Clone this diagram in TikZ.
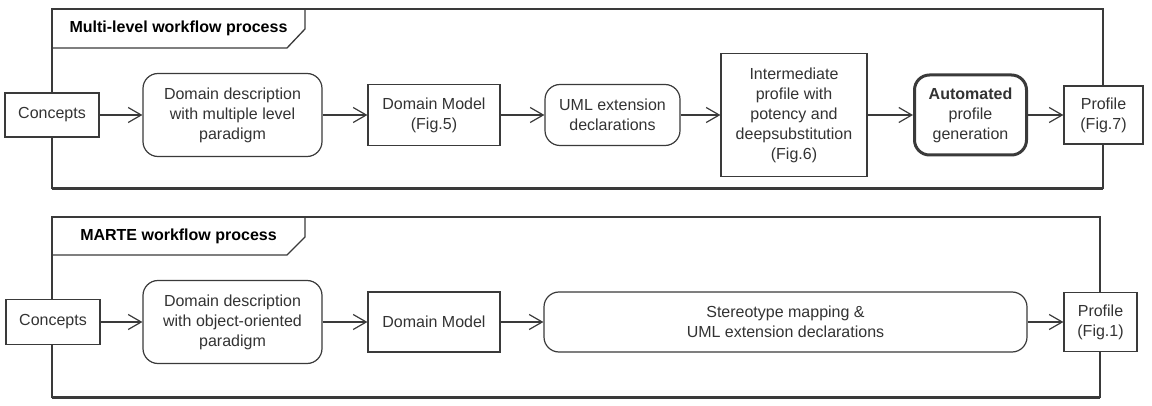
\documentclass[tikz,border=0pt]{standalone}
\usepackage{fontspec}
\setmainfont{Liberation Sans}
\usetikzlibrary{arrows.meta}
\definecolor{linec}{HTML}{3A3A3A}
\definecolor{txt}{HTML}{333333}
\begin{document}
\begin{tikzpicture}[x=1pt,y=-1pt,
  box/.style={draw=linec, line width=1.2pt, fill=white, align=center, inner sep=0pt,
    font=\fontsize{16}{20}\selectfont, text=txt},
  rbox/.style={box, rounded corners=15pt},
  frame/.style={draw=linec, line width=1.3pt},
  title/.style={font=\fontsize{16}{20}\selectfont\bfseries, text=black, inner sep=0pt},
  flow/.style={draw=linec, line width=1.2pt, -{Straight Barb[length=13pt,width=15pt,line width=1.2pt]}}]
\useasboundingbox (0,0) rectangle (1152,406);
% frames
\draw[frame] (52,9) rectangle (1103,188);
\draw[linec, line width=1.6pt] (52,189) -- (1103,189);
\draw[frame] (52,48) -- (287,48) -- (305,29) -- (305,9);
\node[title] (t1) at (178.5,28.5) {Multi-level workflow process};
\draw[frame] (52,217) rectangle (1100,397);
\draw[linec, line width=1.6pt] (52,398) -- (1100,398);
\draw[frame] (52,255) -- (287,255) -- (305,237) -- (305,217);
\node[title] (t2) at (178.5,236) {MARTE workflow process};
% top row
\node[box, minimum width=94pt, minimum height=44pt] (c1) at (52,115) {Concepts};
\node[rbox, minimum width=179pt, minimum height=83pt] (d1) at (232.5,115) {Domain description\\with multiple level\\paradigm};
\node[box, minimum width=132pt, minimum height=61pt] (m1) at (434,115) {Domain Model\\(Fig.5)};
\node[rbox, minimum width=135pt, minimum height=61pt] (u1) at (612.5,115) {UML extension\\declarations};
\node[box, minimum width=146pt, minimum height=123pt] (i1) at (794,115) {Intermediate\\profile with\\potency and\\deepsubstitution\\(Fig.6)};
\node[rbox, line width=3pt, minimum width=112pt, minimum height=80pt] (a1) at (970.5,115) {\textbf{Automated}\\profile\\generation};
\node[box, minimum width=79pt, minimum height=58pt] (p1) at (1103.5,115) {Profile\\(Fig.7)};
\draw[flow] (c1) -- (d1);
\draw[flow] (d1) -- (m1);
\draw[flow] (m1) -- (u1);
\draw[flow] (u1) -- (i1);
\draw[flow] (i1) -- (a1);
\draw[flow] (a1) -- (p1);
% bottom row
\node[box, minimum width=94pt, minimum height=45pt] (c2) at (53,322) {Concepts};
\node[rbox, minimum width=179pt, minimum height=83pt] (d2) at (232.5,322) {Domain description\\with object-oriented\\paradigm};
\node[box, minimum width=132pt, minimum height=60pt] (m2) at (434,322) {Domain Model};
\node[rbox, minimum width=483pt, minimum height=60pt] (s2) at (785.5,322) {Stereotype mapping \&\\UML extension declarations};
\node[box, minimum width=73pt, minimum height=59pt] (p2) at (1100.5,322) {Profile\\(Fig.1)};
\draw[flow] (c2) -- (d2);
\draw[flow] (d2) -- (m2);
\draw[flow] (m2) -- (s2);
\draw[flow] (s2) -- (p2);
\end{tikzpicture}
\end{document}
